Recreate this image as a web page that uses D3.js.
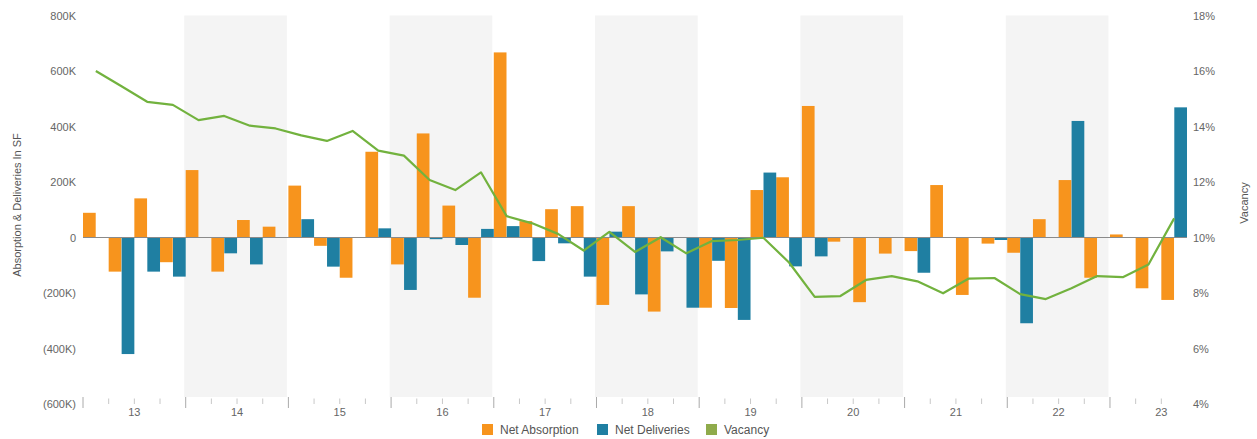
<!DOCTYPE html>
<html>
<head>
<meta charset="utf-8">
<script src="https://cdn.jsdelivr.net/npm/d3@7"></script>
<style>
  html, body { margin: 0; padding: 0; background: #fff; }
  svg { display: block; font-family: "Liberation Sans", Arial, sans-serif; }
</style>
</head>
<body>
<svg id="chart" width="1257" height="439"></svg>
<script>
// ---------- DATA ----------
const quarters = [
  "13Q1","13Q2","13Q3","13Q4",
  "14Q1","14Q2","14Q3","14Q4",
  "15Q1","15Q2","15Q3","15Q4",
  "16Q1","16Q2","16Q3","16Q4",
  "17Q1","17Q2","17Q3","17Q4",
  "18Q1","18Q2","18Q3","18Q4",
  "19Q1","19Q2","19Q3","19Q4",
  "20Q1","20Q2","20Q3","20Q4",
  "21Q1","21Q2","21Q3","21Q4",
  "22Q1","22Q2","22Q3","22Q4",
  "23Q1","23Q2","23Q3"
];
const yearLabels = ["13","14","15","16","17","18","19","20","21","22","23"];
const shadedYears = ["14","16","18","20","22"];

// Net absorption, thousands of SF
const netAbsorption = [
   89, -123,  141,  -89,
  243, -123,   63,   39,
  187,  -30, -145,  309,
  -97,  375,  115, -217,
  667,   59,  102,  113,
 -243,  113, -267,    0,
 -253, -254,  171,  217,
  474,  -15, -233,  -58,
  -49,  189, -207,  -22,
  -55,   66,  207, -145,
   11, -183, -225
];
// Net deliveries, thousands of SF
const netDeliveries = [
    0, -420, -123, -141,
    0,  -57,  -97,    0,
   66, -105,    0,   33,
 -189,   -6,  -27,   31,
   41,  -85,  -21, -141,
   21, -205,  -50, -253,
  -84, -297,  234, -104,
  -68,    0,    0,    0,
 -127,    0,    0,   -9,
 -309,    0,  420,    0,
    0,    0,  469
];
// Vacancy rate, %
const vacancy = [
  16.0, 15.45, 14.89, 14.78,
  14.23, 14.38, 14.03, 13.93,
  13.68, 13.48, 13.84, 13.13,
  12.95, 12.07, 11.71, 12.35,
  10.77, 10.51, 10.13, 9.53,
  10.2, 9.48, 10.01, 9.43,
  9.87, 9.91, 9.99, 9.1,
  7.86, 7.89, 8.47, 8.61,
  8.42, 7.99, 8.52, 8.54,
  7.96, 7.78, 8.17, 8.61,
  8.57, 9.03, 10.69
];
const leftTicks = [800, 600, 400, 200, 0, -200, -400, -600];
const rightTicks = [18, 16, 14, 12, 10, 8, 6, 4];
const seriesNames = ["Net Absorption", "Net Deliveries", "Vacancy"];
const colors = { absorption: "#f7941d", deliveries: "#1f7fa2", vacancy: "#72b23e", vacancyKey: "#8fab4b" };

// ---------- LAYOUT ----------
const svg = d3.select("#chart");
const plot = { left: 83, right: 1187, top: 15.5, bottom: 404 };

const x = d3.scaleBand().domain(quarters).range([plot.left, plot.right]).padding(0);
const xInner = d3.scaleBand().domain(["a", "d"]).range([0, x.bandwidth()]).paddingInner(0.02);
const yL = d3.scaleLinear().domain([-600, 800]).range([plot.bottom, plot.top]);
const yR = d3.scaleLinear().domain([4, 18]).range([plot.bottom, plot.top]);

// shaded year bands
const yearStart = yr => x(yr + "Q1");
const yearEnd = yr => {
  const qs = quarters.filter(q => q.startsWith(yr));
  return x(qs[qs.length - 1]) + x.bandwidth();
};
svg.append("g").selectAll("rect").data(shadedYears).join("rect")
  .attr("x", d => yearStart(d) - 1.5)
  .attr("width", d => yearEnd(d) - yearStart(d))
  .attr("y", plot.top)
  .attr("height", 397 - plot.top)
  .attr("fill", "#f4f4f4");

// bars
const barG = svg.append("g");
barG.selectAll("rect.abs").data(quarters).join("rect")
  .attr("class", "abs")
  .attr("x", (d) => x(d) + xInner("a"))
  .attr("width", xInner.bandwidth())
  .attr("y", (d, i) => Math.min(yL(netAbsorption[i]), yL(0)))
  .attr("height", (d, i) => Math.abs(yL(netAbsorption[i]) - yL(0)))
  .attr("fill", colors.absorption);
barG.selectAll("rect.del").data(quarters).join("rect")
  .attr("class", "del")
  .attr("x", (d) => x(d) + xInner("d"))
  .attr("width", xInner.bandwidth())
  .attr("y", (d, i) => Math.min(yL(netDeliveries[i]), yL(0)))
  .attr("height", (d, i) => Math.abs(yL(netDeliveries[i]) - yL(0)))
  .attr("fill", colors.deliveries);

// zero line
svg.append("line")
  .attr("x1", plot.left).attr("x2", plot.right)
  .attr("y1", yL(0)).attr("y2", yL(0))
  .attr("stroke", "#8a8a8a").attr("stroke-width", 1);

// vacancy line
const line = d3.line()
  .x((d, i) => x(quarters[i]) + x.bandwidth() / 2)
  .y(d => yR(d));
svg.append("path").datum(vacancy)
  .attr("d", line)
  .attr("fill", "none")
  .attr("stroke", colors.vacancy)
  .attr("stroke-width", 2.2)
  .attr("stroke-linejoin", "round");

// left axis
const fmtK = v => v === 0 ? "0" : (v < 0 ? "(" + Math.abs(v) + "K)" : v + "K");
const leftAxis = d3.axisLeft(yL).tickValues(leftTicks).tickFormat(fmtK).tickSize(0).tickPadding(0);
svg.append("g").attr("transform", "translate(76,0)").call(leftAxis)
  .call(g => g.select(".domain").remove())
  .call(g => g.selectAll("text").attr("fill", "#666").style("font-size", "11px")
    .style("font-family", "Liberation Sans, Arial, sans-serif"));

// right axis
const rightAxis = d3.axisRight(yR).tickValues(rightTicks).tickFormat(d => d + "%").tickSize(0).tickPadding(0);
svg.append("g").attr("transform", "translate(1193,0)").call(rightAxis)
  .call(g => g.select(".domain").remove())
  .call(g => g.selectAll("text").attr("fill", "#666").style("font-size", "11px")
    .style("font-family", "Liberation Sans, Arial, sans-serif"));

// x axis ticks at quarter boundaries
const boundaries = quarters.map((q, i) => ({ q, i, major: i % 4 === 0 }));
svg.append("g").selectAll("line").data(boundaries).join("line")
  .attr("x1", d => x(d.q)).attr("x2", d => x(d.q))
  .attr("y1", d => d.major ? 397 : 398.5)
  .attr("y2", d => d.major ? 408 : 404)
  .attr("stroke", d => d.major ? "#aaa" : "#c8c8c8")
  .attr("stroke-width", 1);

// year labels centred on each year's Q3 start
svg.append("g").selectAll("text").data(yearLabels).join("text")
  .attr("x", d => x(d + "Q3"))
  .attr("y", 416)
  .attr("text-anchor", "middle")
  .attr("fill", "#666")
  .style("font-size", "11px")
  .text(d => d);

// axis titles
svg.append("text")
  .attr("transform", "translate(21,205) rotate(-90)")
  .attr("text-anchor", "middle")
  .attr("fill", "#555")
  .style("font-size", "11px")
  .text("Absorption & Deliveries In SF");
svg.append("text")
  .attr("transform", "translate(1248,203) rotate(-90)")
  .attr("text-anchor", "middle")
  .attr("fill", "#555")
  .style("font-size", "11px")
  .text("Vacancy");

// legend
const legendItems = [
  { name: seriesNames[0], color: colors.absorption, x: 482 },
  { name: seriesNames[1], color: colors.deliveries, x: 597 },
  { name: seriesNames[2], color: colors.vacancyKey, x: 706 }
];
const lg = svg.append("g").selectAll("g").data(legendItems).join("g")
  .attr("transform", d => `translate(${d.x},424)`);
lg.append("rect").attr("width", 11).attr("height", 11).attr("fill", d => d.color);
lg.append("text").attr("x", 18).attr("y", 10)
  .attr("fill", "#555").style("font-size", "12px").text(d => d.name);
</script>
</body>
</html>
